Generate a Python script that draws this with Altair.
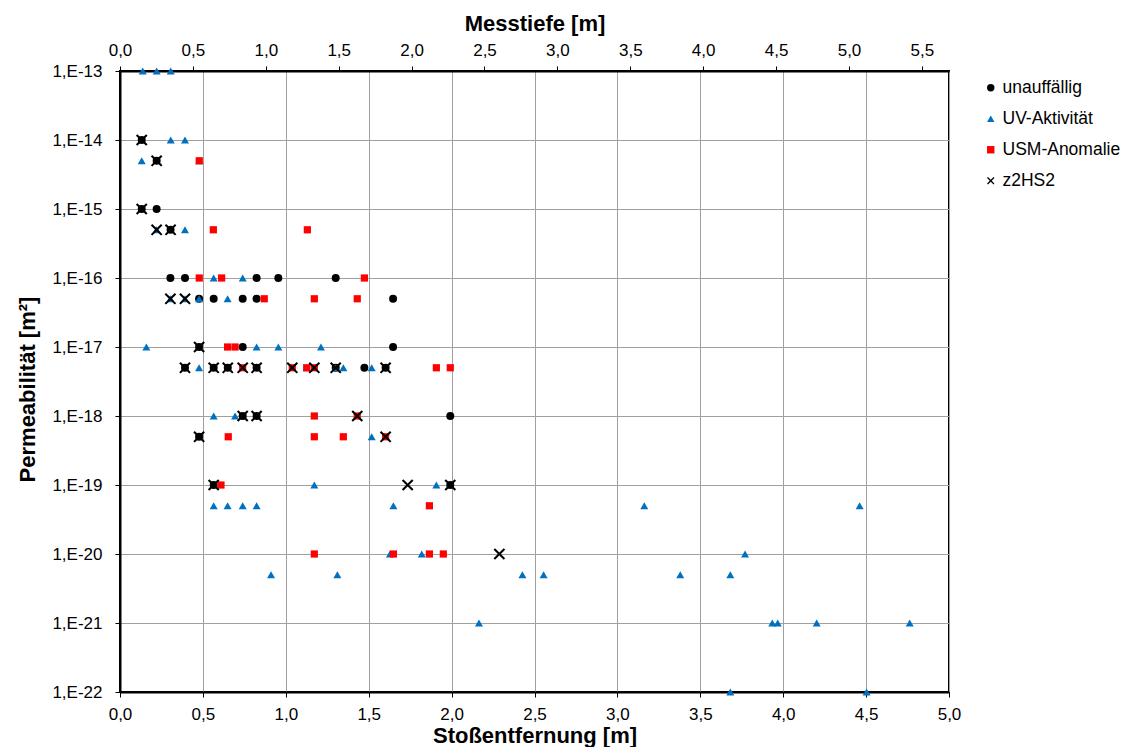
import altair as alt
import pandas as pd

# ---- series definitions ----
series_names = ["unauffällig", "UV-Aktivität", "USM-Anomalie", "z2HS2"]
series_colors = ["#000000", "#0070C0", "#FF0000", "#000000"]
X_PATH = ("M-1,-0.75L-0.75,-1L0,-0.25L0.75,-1L1,-0.75L0.25,0L1,0.75L0.75,1"
          "L0,0.25L-0.75,1L-1,0.75L-0.25,0Z")
series_shapes = ["circle", "triangle-up", "square", X_PATH]
series_sizes = [64, 64, 52, 135]

# ---- data: Stoßentfernung [m] and Permeabilität [m²] ----
unauff_x = [0.131, 0.221, 0.131, 0.221, 0.305,
            0.304, 0.392, 0.824, 0.955, 1.301,
            0.477, 0.565, 0.740, 0.824, 1.647,
            0.477, 0.740, 1.647,
            0.392, 0.565, 0.650, 0.824, 1.301, 1.474, 1.602,
            0.740, 0.824, 1.992,
            0.477,
            0.565, 1.992]
unauff_y = [1e-14, 5e-15, 1e-15, 1e-15, 5e-16,
            1e-16, 1e-16, 1e-16, 1e-16, 1e-16,
            5e-17, 5e-17, 5e-17, 5e-17, 5e-17,
            1e-17, 1e-17, 1e-17,
            5e-18, 5e-18, 5e-18, 5e-18, 5e-18, 5e-18, 5e-18,
            1e-18, 1e-18, 1e-18,
            5e-19,
            1e-19, 1e-19]

uv_x = [0.137, 0.221, 0.306,
        0.306, 0.392,
        0.131, 0.478,
        0.221, 0.392,
        0.565, 0.740,
        0.304, 0.392, 0.477, 0.649,
        0.159, 0.824, 0.955, 1.212,
        0.477, 1.126, 1.301, 1.347, 1.518,
        0.565, 0.694,
        1.518,
        1.172, 1.908,
        0.565, 0.649, 0.740, 0.824, 1.649, 3.162, 4.461,
        1.628, 1.820, 3.770,
        0.911, 1.311, 2.427, 2.555, 3.379, 3.681,
        2.165, 3.934, 3.967, 4.202, 4.763,
        3.681, 4.503]
uv_y = [1e-13, 1e-13, 1e-13,
        1e-14, 1e-14,
        5e-15, 5e-15,
        5e-16, 5e-16,
        1e-16, 1e-16,
        5e-17, 5e-17, 5e-17, 5e-17,
        1e-17, 1e-17, 1e-17, 1e-17,
        5e-18, 5e-18, 5e-18, 5e-18, 5e-18,
        1e-18, 1e-18,
        5e-19,
        1e-19, 1e-19,
        5e-20, 5e-20, 5e-20, 5e-20, 5e-20, 5e-20, 5e-20,
        1e-20, 1e-20, 1e-20,
        5e-21, 5e-21, 5e-21, 5e-21, 5e-21, 5e-21,
        1e-21, 1e-21, 1e-21, 1e-21, 1e-21,
        1e-22, 1e-22]

usm_x = [0.478,
         0.563, 1.130,
         0.478, 0.613, 1.474,
         0.870, 1.172, 1.431,
         0.649, 0.694,
         0.740, 1.039, 1.126, 1.172, 1.908, 1.992,
         1.172, 1.431,
         0.653, 1.172, 1.347, 1.602,
         0.609,
         1.866,
         1.172, 1.649, 1.866, 1.950]
usm_y = [5e-15,
         5e-16, 5e-16,
         1e-16, 1e-16, 1e-16,
         5e-17, 5e-17, 5e-17,
         1e-17, 1e-17,
         5e-18, 5e-18, 5e-18, 5e-18, 5e-18, 5e-18,
         1e-18, 1e-18,
         5e-19, 5e-19, 5e-19, 5e-19,
         1e-19,
         5e-20,
         1e-20, 1e-20, 1e-20, 1e-20]

z2_x = [0.131, 0.221, 0.131, 0.221, 0.305,
        0.304, 0.392,
        0.477,
        0.392, 0.565, 0.650, 0.740, 0.824, 1.039, 1.172, 1.301, 1.602,
        0.740, 0.824, 1.431,
        0.477, 1.602,
        0.565, 1.735, 1.992,
        2.288]
z2_y = [1e-14, 5e-15, 1e-15, 5e-16, 5e-16,
        5e-17, 5e-17,
        1e-17,
        5e-18, 5e-18, 5e-18, 5e-18, 5e-18, 5e-18, 5e-18, 5e-18, 5e-18,
        1e-18, 1e-18, 1e-18,
        5e-19, 5e-19,
        1e-19, 1e-19, 1e-19,
        1e-20]

x_ticks = [0.0, 0.5, 1.0, 1.5, 2.0, 2.5, 3.0, 3.5, 4.0, 4.5, 5.0]
mt_ticks = [0.0, 0.5, 1.0, 1.5, 2.0, 2.5, 3.0, 3.5, 4.0, 4.5, 5.0, 5.5]
y_ticks = [1e-13, 1e-14, 1e-15, 1e-16, 1e-17, 1e-18, 1e-19, 1e-20, 1e-21, 1e-22]
mt_max = 5.686  # Messtiefe at right edge of plot

rows = []
for k, (xs, ys) in enumerate([(unauff_x, unauff_y), (uv_x, uv_y),
                              (usm_x, usm_y), (z2_x, z2_y)]):
    for xv, yv in zip(xs, ys):
        rows.append({"stoss": xv, "perm": yv, "serie": series_names[k],
                     "sz": series_sizes[k]})
df = pd.DataFrame(rows)

FONT = "Liberation Sans"
comma_expr = "replace(format(datum.value, '.1f'), '.', ',')"

leg = alt.Legend(title=None, orient="none", legendX=862, legendY=8,
                 labelFontSize=17.5, labelFont=FONT, labelColor="black",
                 rowPadding=12, labelOffset=3, symbolSize=55,
                 symbolStrokeWidth=0)

points = alt.Chart(df).mark_point(filled=True, opacity=1).encode(
    x=alt.X("stoss:Q",
            scale=alt.Scale(domain=[0, 5], nice=False, zero=False),
            axis=alt.Axis(orient="bottom", title="Stoßentfernung [m]",
                          values=x_ticks, labelExpr=comma_expr, grid=True,
                          labelFlush=False, labelBaseline="alphabetic",
                          labelPadding=22, titleBaseline="alphabetic",
                          titleY=50)),
    y=alt.Y("perm:Q",
            scale=alt.Scale(type="log", domain=[1e-22, 1e-13], nice=False),
            axis=alt.Axis(title="Permeabilität [m²]", values=y_ticks,
                          labelExpr="'1,E' + round(log(datum.value)/LN10)",
                          grid=True, labelFlush=False, labelPadding=13,
                          titleBaseline="alphabetic", titleX=-86, titleY=318)),
    color=alt.Color("serie:N",
                    scale=alt.Scale(domain=series_names, range=series_colors),
                    legend=leg),
    shape=alt.Shape("serie:N",
                    scale=alt.Scale(domain=series_names, range=series_shapes),
                    legend=leg),
    size=alt.Size("sz:Q", scale=None, legend=None),
)

top = alt.Chart(pd.DataFrame({"mt": mt_ticks})).mark_point(opacity=0).encode(
    x=alt.X("mt:Q",
            scale=alt.Scale(domain=[0, mt_max], nice=False, zero=False),
            axis=alt.Axis(orient="top", title="Messtiefe [m]", values=mt_ticks,
                          labelExpr=comma_expr, grid=False, labelFlush=False,
                          labelBaseline="alphabetic", labelPadding=11,
                          titleBaseline="alphabetic", titleY=-41)),
)

chart = alt.layer(points, top).resolve_scale(x="independent").properties(
    width=829, height=621,
    autosize=alt.AutoSizeParams(type="none"),
    padding={"left": 112, "top": 63, "right": 174, "bottom": 55},
).configure_view(
    stroke="black", strokeWidth=2
).configure_axis(
    domainColor="black", domainWidth=2, tickColor="black", tickWidth=1,
    tickSize=5, labelFont=FONT, labelFontSize=17, labelColor="black",
    titleFont=FONT, titleFontSize=22, titleFontWeight="bold",
    titleColor="black", gridColor="#a0a0a0", gridWidth=1, gridOpacity=1,
)

chart.save("out.html", embed_options={"renderer": "svg", "actions": False})
